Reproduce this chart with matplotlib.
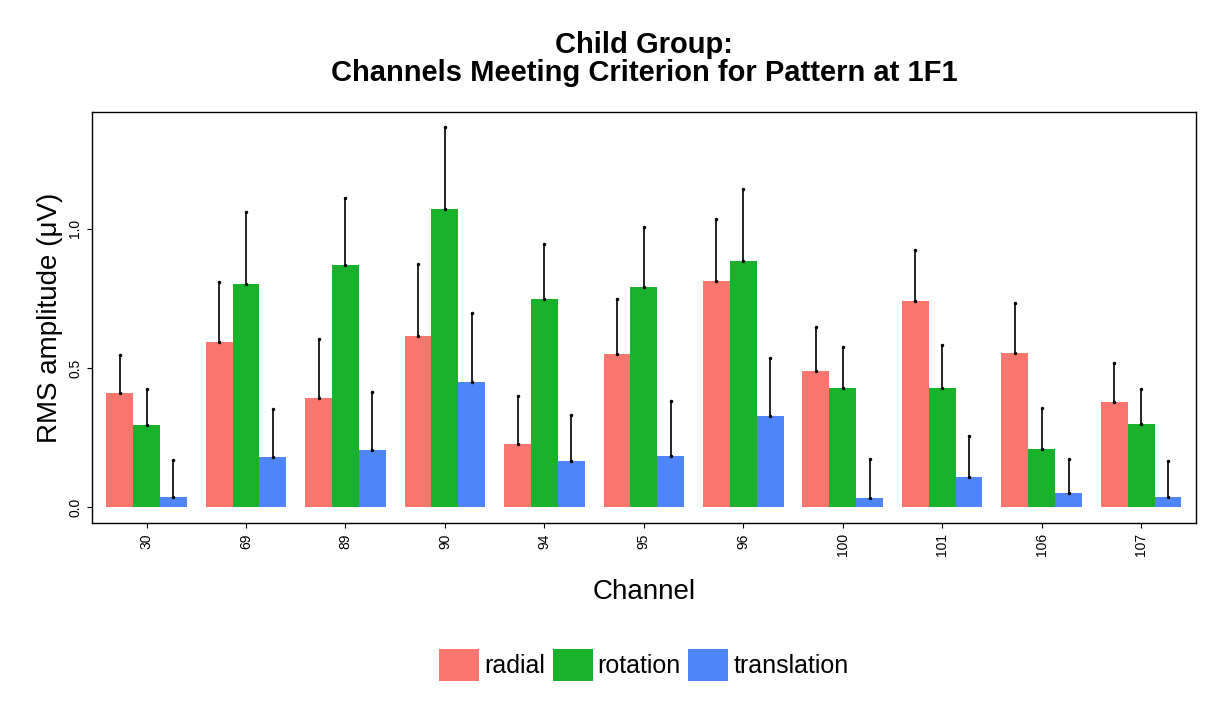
import numpy as np
import matplotlib.pyplot as plt

channels = ["30", "69", "89", "90", "94", "95", "96", "100", "101", "106", "107"]
radial = [0.41, 0.593, 0.392, 0.615, 0.227, 0.55, 0.813, 0.489, 0.741, 0.554, 0.378]
radial_top = [0.547, 0.81, 0.604, 0.874, 0.40, 0.748, 1.036, 0.647, 0.924, 0.734, 0.518]
rotation = [0.295, 0.80, 0.87, 1.072, 0.748, 0.79, 0.885, 0.428, 0.428, 0.209, 0.299]
rotation_top = [0.425, 1.06, 1.11, 1.363, 0.946, 1.007, 1.144, 0.575, 0.583, 0.356, 0.425]
translation = [0.036, 0.18, 0.205, 0.45, 0.165, 0.183, 0.327, 0.032, 0.108, 0.05, 0.036]
translation_top = [0.17, 0.353, 0.414, 0.698, 0.331, 0.381, 0.536, 0.173, 0.255, 0.173, 0.165]

series = [("radial", radial, radial_top, "#F8766D"),
          ("rotation", rotation, rotation_top, "#1AB22C"),
          ("translation", translation, translation_top, "#4F86F7")]

plt.rcParams["font.family"] = ["Liberation Sans", "DejaVu Sans"]
fig, ax = plt.subplots(figsize=(12.24, 7.2), dpi=100)
fig.subplots_adjust(left=0.075, right=0.977, top=0.845, bottom=0.273)

x = np.arange(len(channels))
w = 0.27
for i, (name, vals, tops, col) in enumerate(series):
    pos = x + (i - 1) * w
    ax.bar(pos, vals, w, color=col, label=name)
    v = np.array(vals)
    ax.errorbar(pos, v, yerr=[np.zeros_like(v), np.array(tops) - v],
                fmt="none", ecolor="black", elinewidth=1.2, capsize=0)
    ax.plot(pos, tops, "k.", ms=3)
    ax.plot(pos, vals, "k.", ms=3)

ax.set_xlim(-0.55, len(channels) - 0.45)
ax.set_ylim(-0.058, 1.42)
ax.set_yticks([0.0, 0.5, 1.0])
ax.set_yticklabels(["0.0", "0.5", "1.0"], rotation=90, va="center", fontsize=10)
ax.set_xticks(x)
ax.set_xticklabels(channels, rotation=90, fontsize=10)
ax.set_ylabel("RMS amplitude (\u03bcV)", fontsize=20)
ax.set_xlabel("Channel", fontsize=20, labelpad=16)
ax.set_title("Child Group:\nChannels Meeting Criterion for Pattern at 1F1",
             fontsize=21, fontweight="bold", pad=22, linespacing=1.0)
for s in ax.spines.values():
    s.set_linewidth(1.0)
ax.legend(loc="upper center", bbox_to_anchor=(0.5, -0.25), ncol=3, frameon=False,
          fontsize=18, handlelength=1.6, handleheight=1.6, handletextpad=0.2,
          columnspacing=0.3)
fig.savefig("out.png")
